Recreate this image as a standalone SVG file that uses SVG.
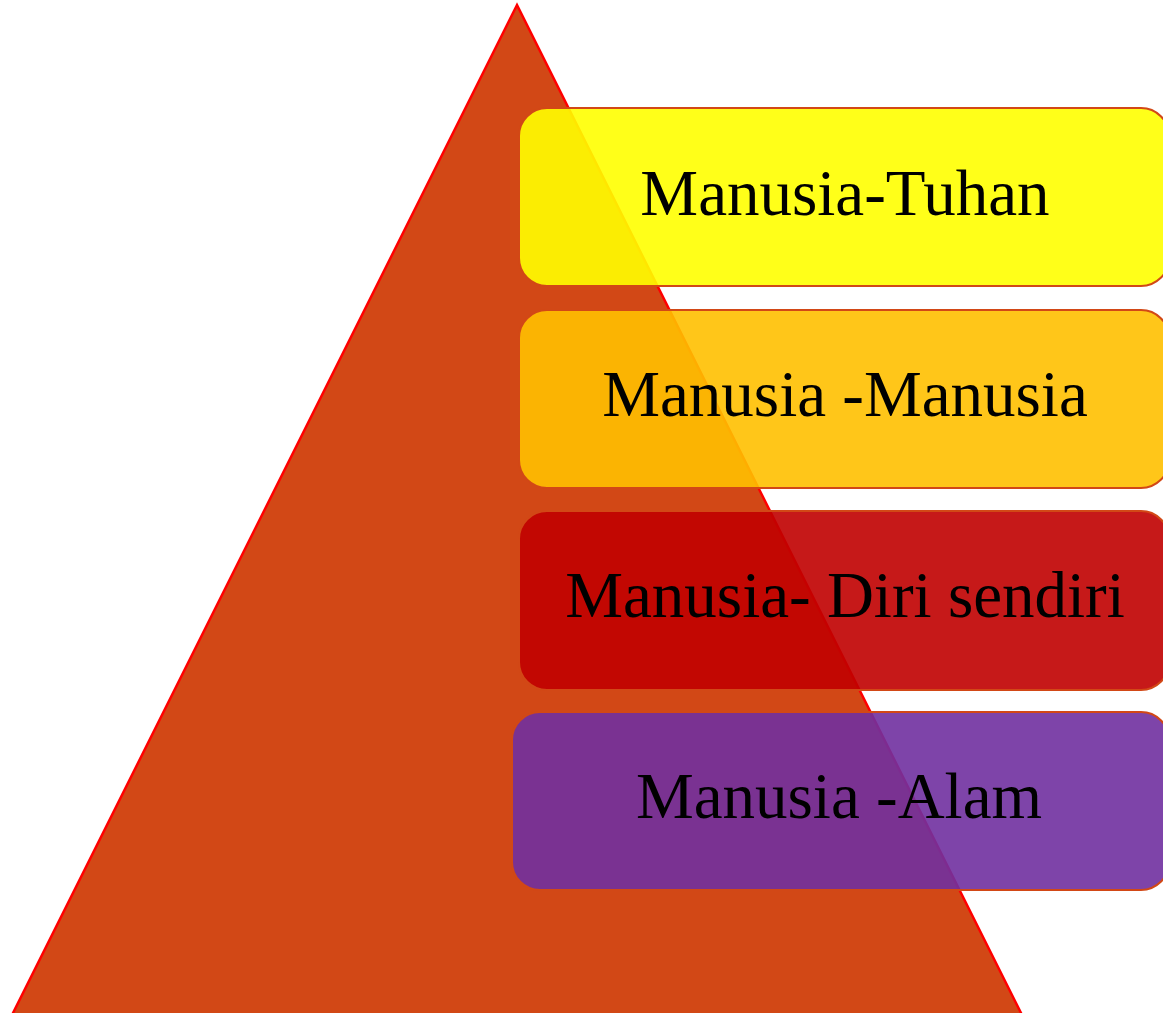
<svg xmlns="http://www.w3.org/2000/svg" width="1163" height="1013" viewBox="0 0 1163 1013">
<style>
.box{stroke:#D24816;stroke-width:2;fill-opacity:0.9}
.lbl{font-family:"Liberation Serif","Times New Roman",serif;font-size:65px;fill:#000;text-anchor:middle}
</style>
<rect width="1163" height="1013" fill="#FFFFFF"/>
<g id="pyramid">
<polygon points="517,5 8,1023 1026,1023" fill="#D24816" stroke="#FF0000" stroke-width="2.5"/>
</g>
<g id="connectors"></g>
<g id="node-tuhan">
<rect class="box" x="519" y="108" width="650" height="178" rx="28" fill="#FFFF00"/>
<text class="lbl" x="845" y="215">Manusia-Tuhan</text>
</g>
<g id="node-manusia">
<rect class="box" x="519" y="310" width="650" height="178" rx="28" fill="#FFC000"/>
<text class="lbl" x="845" y="416">Manusia -Manusia</text>
</g>
<g id="node-diri">
<rect class="box" x="519" y="511" width="650" height="179" rx="28" fill="#C00000"/>
<text class="lbl" x="845" y="617">Manusia- Diri sendiri</text>
</g>
<g id="node-alam">
<rect class="box" x="512" y="712" width="657" height="178" rx="28" fill="#7030A0"/>
<text class="lbl" x="839" y="818">Manusia -Alam</text>
</g>
</svg>
